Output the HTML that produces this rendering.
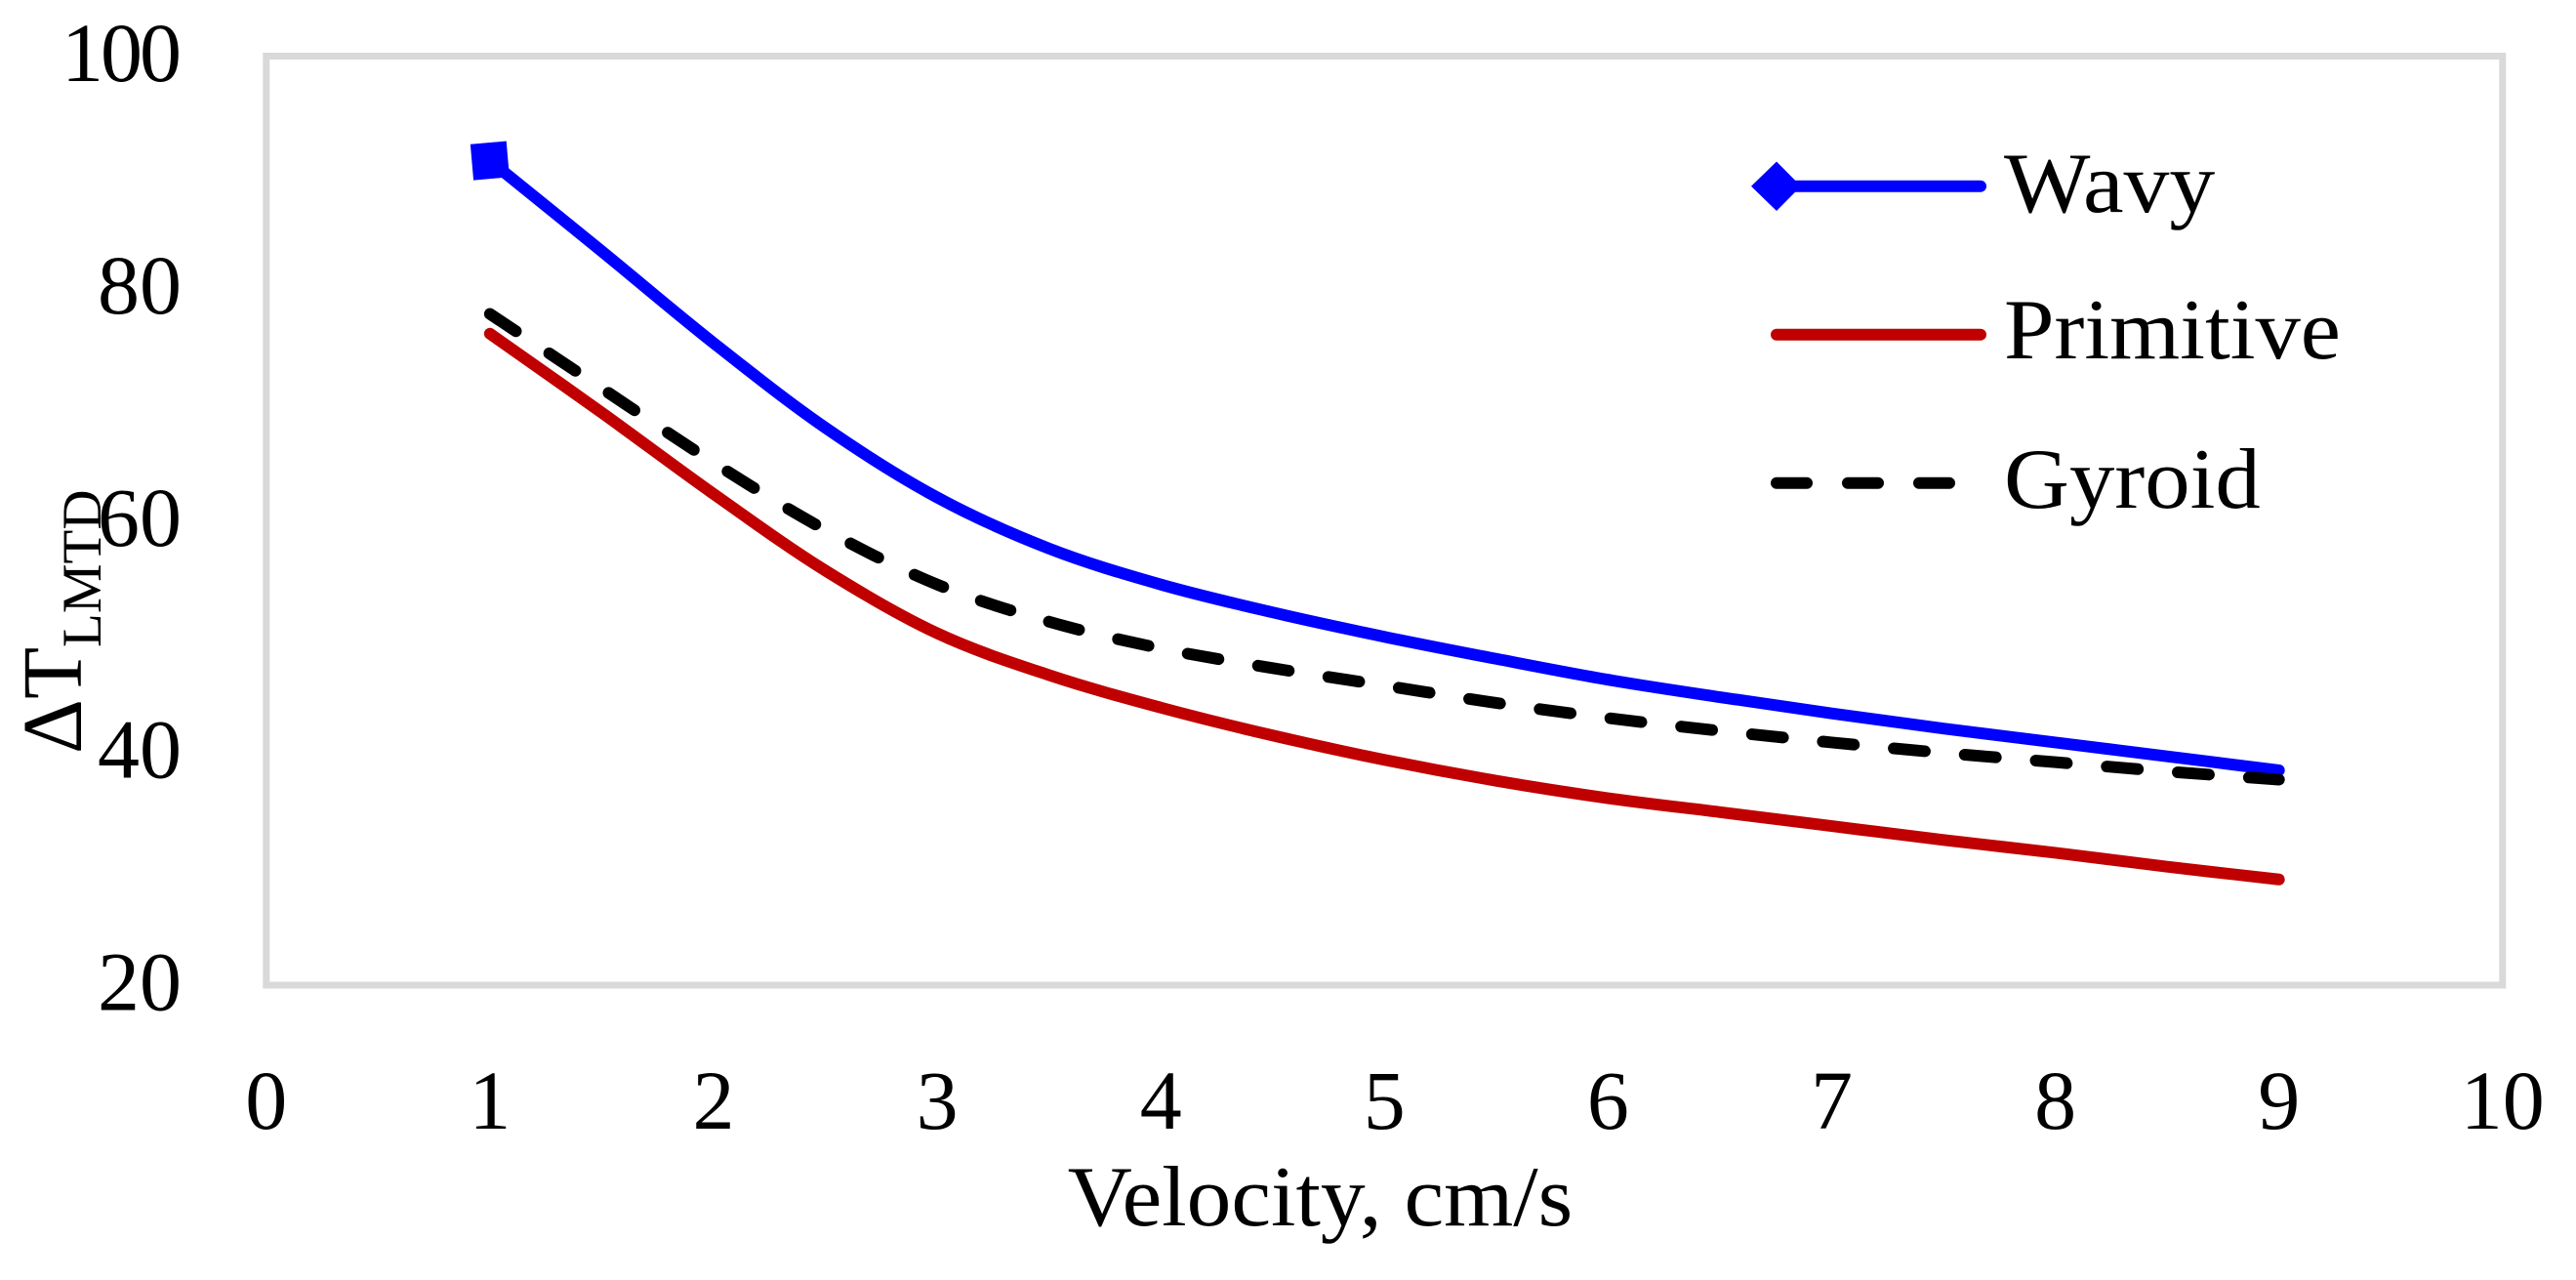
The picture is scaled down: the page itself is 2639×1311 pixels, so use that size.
<!DOCTYPE html>
<html lang="en">
<head>
<meta charset="utf-8">
<title>Velocity vs LMTD chart</title>
<style>
html,body{margin:0;padding:0;background:#fff;}
svg{display:block;}
text{font-family:"Liberation Serif",serif;fill:#000;}
</style>
</head>
<body>
<svg id="chart" xmlns="http://www.w3.org/2000/svg" width="2639" height="1311" viewBox="0 0 2639 1311">
  <rect x="0" y="0" width="2639" height="1311" fill="#ffffff"/>
  <rect x="272.8" y="57.5" width="2291" height="951.5" fill="none" stroke="#d9d9d9" stroke-width="7"/>
  <g id="x-ticks"></g>
  <g id="y-ticks"></g>
  <g id="series"></g>
  <text transform="translate(1352.5,1255) scale(1.04,1)" font-size="88" text-anchor="middle">Velocity, cm/s</text>
  <text transform="translate(83,772) rotate(-90)" font-size="87">ΔT<tspan x="109" dy="20" font-size="57">LMTD</tspan></text>
  <g>
    <g>
      <line x1="1820" y1="190.7" x2="2029" y2="190.7" stroke="#0000ff" stroke-width="12" stroke-linecap="round"/>
      <polygon points="1794,190.7 1820,165.5 1845,190.7 1820,216" fill="#0000ff"/>
      <text transform="translate(2053,217) scale(1.065,1)" font-size="88">Wavy</text>
    </g>
    <g>
      <line x1="1820" y1="342.7" x2="2029" y2="342.7" stroke="#c00000" stroke-width="12" stroke-linecap="round"/>
      <text transform="translate(2053,367) scale(1.053,1)" font-size="88">Primitive</text>
    </g>
    <g>
      <line x1="1820" y1="494.7" x2="2007" y2="494.7" stroke="#000000" stroke-width="12" stroke-linecap="round" stroke-dasharray="31 42"/>
      <text transform="translate(2053,520) scale(1.054,1)" font-size="88">Gyroid</text>
    </g>
  </g>
</svg>
<script>
const velocity = [1, 1.5, 2, 2.5, 3, 3.5, 4, 4.5, 5, 5.5, 6, 6.5, 7, 7.5, 8, 8.5, 9];
const wavyValues = [91.0, 83.2, 75.3, 68.0, 62.0, 57.6, 54.5, 52.1, 50.0, 48.1, 46.3, 44.8, 43.4, 42.1, 40.9, 39.7, 38.5];
const primitiveValues = [76.1, 69.3, 62.3, 55.7, 50.3, 46.7, 43.9, 41.5, 39.4, 37.6, 36.1, 34.9, 33.7, 32.5, 31.4, 30.2, 29.1];
const gyroidValues = [77.8, 71.4, 65.0, 59.2, 54.5, 51.3, 49.0, 47.3, 45.8, 44.3, 43.0, 41.9, 40.9, 40.0, 39.2, 38.4, 37.7];
const xTickLabels = [0, 1, 2, 3, 4, 5, 6, 7, 8, 9, 10];
const yTickLabels = [20, 40, 60, 80, 100];

const NS = 'http://www.w3.org/2000/svg';
const plot = {left: 272.8, right: 2563.8, top: 57.5, bottom: 1009};
const xMin = xTickLabels[0], xMax = xTickLabels[xTickLabels.length - 1];
const yMin = yTickLabels[0], yMax = yTickLabels[yTickLabels.length - 1];
function xScale(v) { return plot.left + (v - xMin) / (xMax - xMin) * (plot.right - plot.left); }
function yScale(v) { return plot.bottom - (v - yMin) / (yMax - yMin) * (plot.bottom - plot.top); }

function make(tag, attrs, parent) {
  const node = document.createElementNS(NS, tag);
  for (const k in attrs) node.setAttribute(k, attrs[k]);
  parent.appendChild(node);
  return node;
}

function smoothPath(xs, ys) {
  const pts = xs.map((x, i) => [xScale(x), yScale(ys[i])]);
  let d = 'M' + pts[0][0].toFixed(2) + ' ' + pts[0][1].toFixed(2);
  for (let i = 0; i < pts.length - 1; i++) {
    const p0 = pts[Math.max(i - 1, 0)], p1 = pts[i], p2 = pts[i + 1], p3 = pts[Math.min(i + 2, pts.length - 1)];
    const c1x = p1[0] + (p2[0] - p0[0]) / 6, c1y = p1[1] + (p2[1] - p0[1]) / 6;
    const c2x = p2[0] - (p3[0] - p1[0]) / 6, c2y = p2[1] - (p3[1] - p1[1]) / 6;
    d += 'C' + c1x.toFixed(2) + ' ' + c1y.toFixed(2) + ' ' + c2x.toFixed(2) + ' ' + c2y.toFixed(2) + ' ' + p2[0].toFixed(2) + ' ' + p2[1].toFixed(2);
  }
  return d;
}

const xGroup = document.getElementById('x-ticks');
xTickLabels.forEach(function (t) {
  const label = make('text', {x: xScale(t), y: 1156, 'font-size': 86, 'text-anchor': 'middle'}, xGroup);
  
  
  label.textContent = t;
});

const yGroup = document.getElementById('y-ticks');
yTickLabels.forEach(function (t) {
  const wide = String(t).length > 2;
  const label = make('text', {x: wide ? 183 : 186, y: yScale(t) + 25.5, 'font-size': 86, 'text-anchor': 'end', 'letter-spacing': wide ? -3 : 0}, yGroup);
  
  
  label.textContent = t;
});

const seriesGroup = document.getElementById('series');

const primitiveLine = make('path', {d: smoothPath(velocity, primitiveValues), fill: 'none', stroke: '#c00000', 'stroke-width': 12, 'stroke-linecap': 'round', 'stroke-linejoin': 'round'}, seriesGroup);



const wavyLine = make('path', {d: smoothPath(velocity, wavyValues), fill: 'none', stroke: '#0000ff', 'stroke-width': 12, 'stroke-linecap': 'round', 'stroke-linejoin': 'round'}, seriesGroup);



const gyroidLine = make('path', {d: smoothPath(velocity, gyroidValues), fill: 'none', stroke: '#000000', 'stroke-width': 12, 'stroke-linecap': 'round', 'stroke-linejoin': 'round', 'stroke-dasharray': '32 41'}, seriesGroup);



const mx = xScale(velocity[0]), my = yScale(wavyValues[0]);
const wavyMarker = make('rect', {x: mx - 18.5, y: my - 18.5, width: 37, height: 37, fill: '#0000ff', transform: 'rotate(-5 ' + mx + ' ' + my + ')'}, seriesGroup);


</script>
</body>
</html>
